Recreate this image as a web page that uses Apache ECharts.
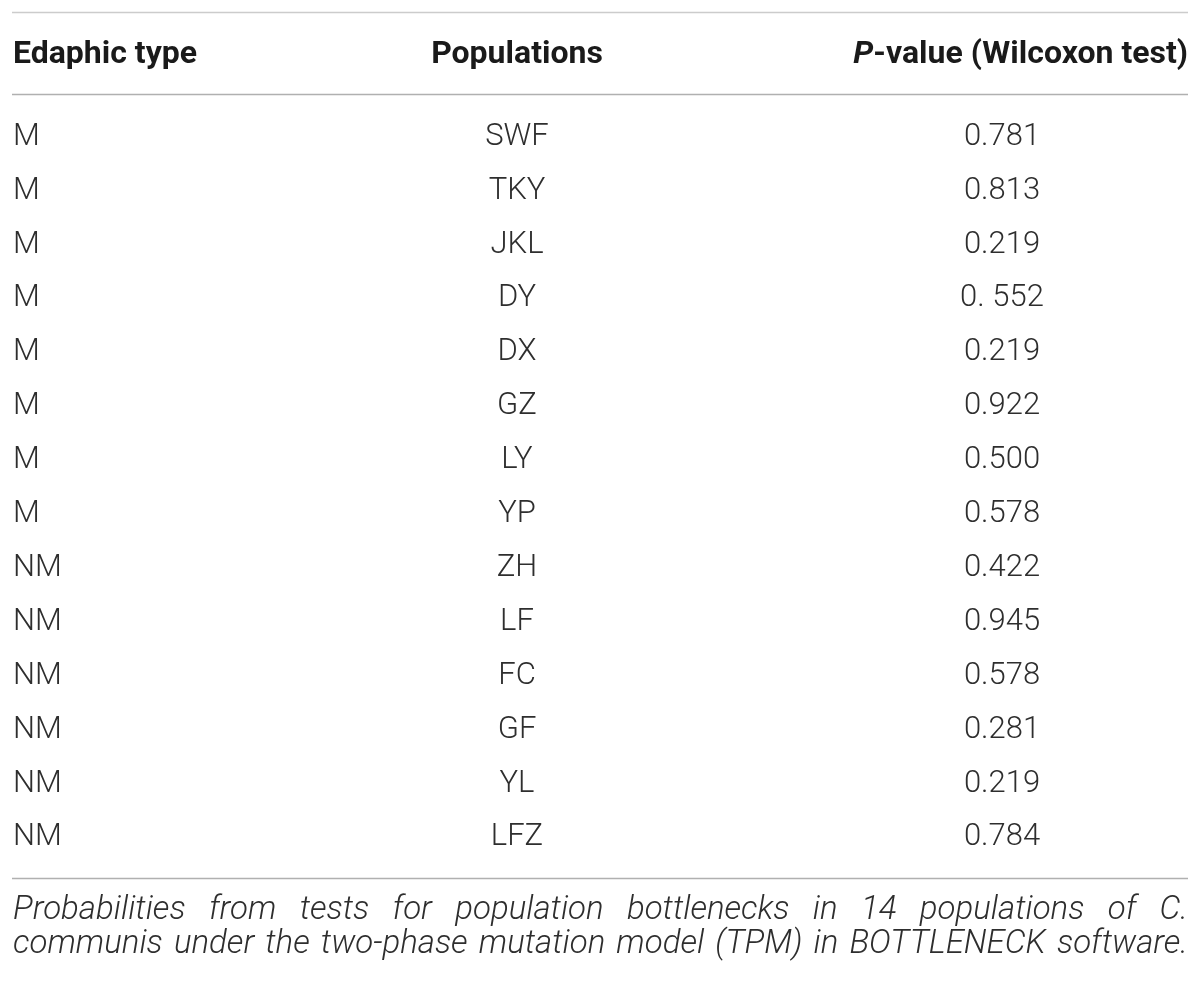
<!DOCTYPE html>
<html>
<head>
<meta charset="utf-8">
<script src="https://cdn.jsdelivr.net/npm/echarts@6/dist/echarts.min.js"></script>
<style>
html,body{margin:0;padding:0;background:#fff;}
#chart{width:1200px;height:983px;}
</style>
</head>
<body>
<div id="chart"></div>
<script>
// ---- data ----
const headers = ['Edaphic type', 'Populations', 'P-value (Wilcoxon test)'];
const edaphicTypes = ['M','M','M','M','M','M','M','M','NM','NM','NM','NM','NM','NM'];
const populations = ['SWF','TKY','JKL','DY','DX','GZ','LY','YP','ZH','LF','FC','GF','YL','LFZ'];
const pValues = ['0.781','0.813','0.219','0. 552','0.219','0.922','0.500','0.578','0.422','0.945','0.578','0.281','0.219','0.784'];
const captionLines = [
  'Probabilities from tests for population bottlenecks in 14 populations of C.',
  'communis under the two-phase mutation model (TPM) in BOTTLENECK software.'
];

// ---- layout ----
const W = 1200, H = 983;
const LEFT = 13, RIGHT = 1188;
const ROW_TOP = 110, ROW_H = 53.9;
const FONT = '"Roboto","Helvetica Neue","Liberation Sans",Arial,sans-serif';
const BODY_COLOR = '#2e2e2e';
const colX = [0, (517 - LEFT) / (RIGHT - LEFT), (1002 - LEFT) / (RIGHT - LEFT)];
const colAlign = ['left', 'center', 'center'];
const columns = [edaphicTypes, populations, pValues];

const chart = echarts.init(document.getElementById('chart'), null, {renderer: 'canvas'});

function makeSeries(ci) {
  const texts = columns[ci];
  return {
    type: 'custom',
    coordinateSystem: 'cartesian2d',
    silent: true,
    data: texts.map((t, i) => [colX[ci], i]),
    renderItem: function (params, api) {
      const pt = api.coord([api.value(0), api.value(1)]);
      return {
        type: 'text',
        x: pt[0], y: pt[1],
        style: {
          text: texts[params.dataIndex],
          fill: BODY_COLOR,
          font: '300 31px ' + FONT,
          align: colAlign[ci],
          verticalAlign: 'middle'
        }
      };
    }
  };
}

// caption justified; size chosen so the longest line fits the table width
const measureCtx = document.createElement('canvas').getContext('2d');
let capSize = 33;
function capFont(s) { return 'italic 300 ' + s + 'px ' + FONT; }
while (capSize > 20) {
  measureCtx.font = capFont(capSize);
  const ok = captionLines.every(l => measureCtx.measureText(l).width <= (RIGHT - LEFT));
  if (ok) break;
  capSize -= 0.5;
}
const CAP_FONT = capFont(capSize);
measureCtx.font = CAP_FONT;
const captionY = [911, 945];
const captionEls = [];
captionLines.forEach((line, li) => {
  const words = line.split(' ');
  const widths = words.map(w => measureCtx.measureText(w).width);
  const total = widths.reduce((a, b) => a + b, 0);
  const gap = (RIGHT - LEFT - total) / (words.length - 1);
  let x = LEFT;
  words.forEach((w, wi) => {
    captionEls.push({
      type: 'text', x: x, y: captionY[li], silent: true,
      style: {text: w, font: CAP_FONT, fill: BODY_COLOR, align: 'left', verticalAlign: 'middle'}
    });
    x += widths[wi] + gap;
  });
});

const headY = 55;
const HEAD_FONT = 'bold 32px ' + FONT;
const graphics = [
  {type: 'line', shape: {x1: LEFT - 1, y1: 12.5, x2: RIGHT, y2: 12.5}, style: {stroke: '#cccccc', lineWidth: 1.5}, silent: true},
  {type: 'line', shape: {x1: LEFT - 1, y1: 94.5, x2: RIGHT, y2: 94.5}, style: {stroke: '#b0b0b0', lineWidth: 1.5}, silent: true},
  {type: 'line', shape: {x1: LEFT - 1, y1: 878.5, x2: RIGHT, y2: 878.5}, style: {stroke: '#b0b0b0', lineWidth: 1.5}, silent: true},
  {type: 'text', x: LEFT, y: headY, silent: true, style: {text: headers[0], font: HEAD_FONT, fill: '#1a1a1a', align: 'left', verticalAlign: 'middle'}},
  {type: 'text', x: 517, y: headY, silent: true, style: {text: headers[1], font: HEAD_FONT, fill: '#1a1a1a', align: 'center', verticalAlign: 'middle'}},
  {type: 'text', x: RIGHT, y: headY, silent: true, style: {
    text: '{i|P}{n|' + headers[2].slice(1) + '}', align: 'right', verticalAlign: 'middle',
    rich: {
      i: {font: 'italic bold 32px ' + FONT, fill: '#1a1a1a'},
      n: {font: HEAD_FONT, fill: '#1a1a1a'}
    }
  }}
].concat(captionEls);

chart.setOption({
  animation: false,
  backgroundColor: '#fff',
  grid: {left: LEFT, right: W - RIGHT, top: ROW_TOP, height: ROW_H * populations.length},
  xAxis: {type: 'value', min: 0, max: 1, show: false},
  yAxis: {type: 'category', inverse: true, data: populations.map((p, i) => String(i)), show: false, boundaryGap: true},
  series: [makeSeries(0), makeSeries(1), makeSeries(2)],
  graphic: graphics
});
</script>
</body>
</html>
